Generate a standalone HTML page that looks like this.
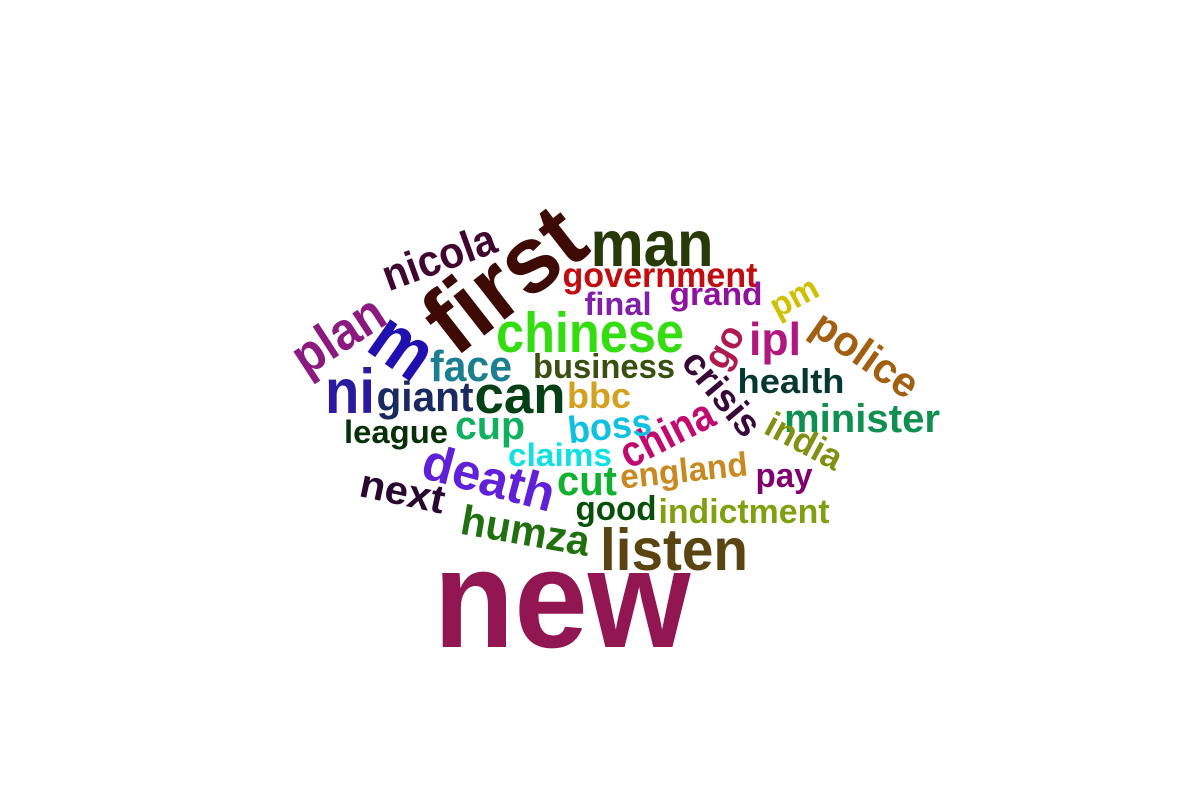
<!DOCTYPE html>
<html><head><meta charset="utf-8"><title>Word cloud</title>
<style>html,body{margin:0;padding:0;background:#fff;width:1200px;height:812px;overflow:hidden}
svg{display:block}text{font-family:"Liberation Sans",Arial,sans-serif;font-weight:bold}</style></head>
<body>
<svg id="cloud" width="1200" height="812" viewBox="0 0 1200 812"></svg>
<script>
const words=["new","first","man","listen","chinese","can","ni","m","plan","death","nicola","face","china","police","government","ipl","humza","giant","cup","minister","cut","boss","next","crisis","go","bbc","business","health","india","england","grand","final","claims","pm","pay","good","indictment","league"];
const sizes=[140,95,65,59,57,53,63,75,53,51,44,44,44,42,35,46,42,42,40,40,42,38,40,38,38,36,34,34,36,34,32,32,32,34,34,34,34,32];
const colors=["#921651","#3d0a06","#283a08","#5a4512","#33dd10","#064016","#2a1aa0","#2010b0","#8a1a80","#6020d8","#400830","#1a8090","#c00a70","#a06010","#c00d10","#b01880","#207010","#1a2a60","#10b060","#109050","#10b030","#10c0e0","#280830","#380838","#b01850","#d4a020","#3a5010","#043830","#809010","#c88a20","#9010a0","#8020a8","#10e0e0","#d0c000","#800070","#085008","#80a010","#083008"];
// layout (center x, baseline y, text width, rotation)
const layX=[562,508,652,674,590,520,350,400,340,488,440,471,668,864,660,775,525,425,490,862,587,610,402,720,726,599,604,791,803,684,716,618,560,795,784,616,744,396];
const layY=[647,310,266,570,352,413,413,370,352,495,272,381,448,368,287,355,545,411,439,432,495,439,505,405,358,408,378,393,453,482,305,315,466,308,487,520,523,443];
const layW=[257,175,123,148,188,91,50,60,100,135,118,82,100,120,195,52,130,97,70,156,60,84,86,100,44,64,142,107,82,128,93,67,104,50,57,81,171,104];
const layR=[0,-38,0,0,0,0,0,35,-33,15,-20,0,-27,35,0,0,10,0,0,0,0,-6,12,50,-60,0,0,0,28,-6,0,0,0,-28,0,0,0,0];
const svg=document.getElementById('cloud');
const NS='http://www.w3.org/2000/svg';
words.forEach((w,i)=>{
  const t=document.createElementNS(NS,'text');
  
  
  const fs=sizes[i];
  t.setAttribute('font-size',fs);
  t.setAttribute('fill',colors[i]);
  t.setAttribute('text-anchor','middle');
  t.setAttribute('textLength',layW[i]);
  t.setAttribute('lengthAdjust','spacingAndGlyphs');
  const cy=layY[i]-0.27*fs;
  t.setAttribute('x',0);
  t.setAttribute('y',0.27*fs);
  t.setAttribute('transform','translate('+layX[i]+','+cy+') rotate('+layR[i]+')');
  t.textContent=w;
  svg.appendChild(t);
});
</script>
</body></html>
